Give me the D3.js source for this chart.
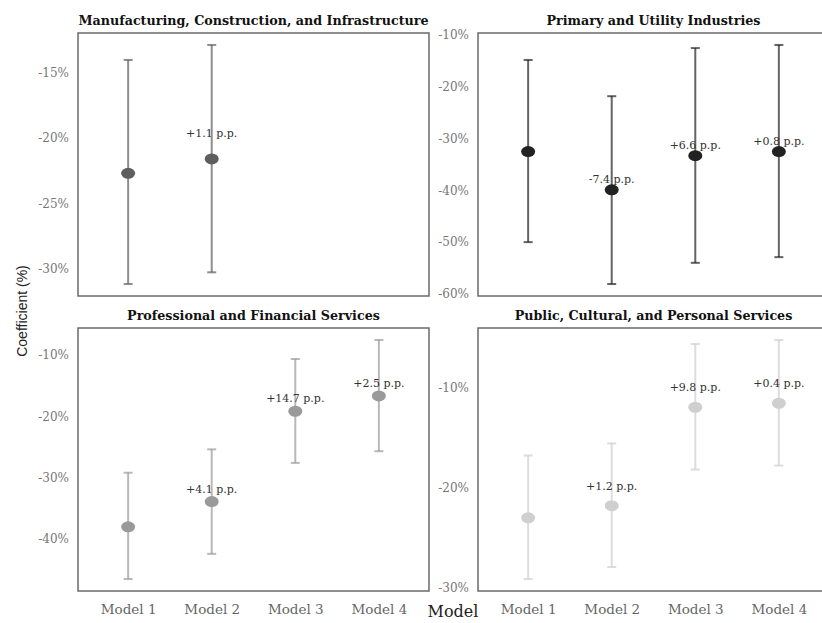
<!DOCTYPE html>
<html>
<head>
<meta charset="utf-8">
<script src="https://cdn.jsdelivr.net/npm/d3@7"></script>
<style>
  html, body { margin: 0; padding: 0; background: #fff; overflow: hidden; }
  svg { display: block; }
</style>
</head>
<body>
<svg id="chart" width="822" height="623"></svg>
<script>
// Models compared along the x axis
const models = ["Model 1", "Model 2", "Model 3", "Model 4"];

// Sector panel titles
const sectorTitles = [
  "Manufacturing, Construction, and Infrastructure",
  "Primary and Utility Industries",
  "Professional and Financial Services",
  "Public, Cultural, and Personal Services"
];

// Point estimates (%) per sector
const coefManufacturing = [-22.7, -21.6];
const coefPrimary       = [-32.5, -39.9, -33.3, -32.5];
const coefProfessional  = [-38.0, -33.9, -19.2, -16.7];
const coefPublic        = [-23.0, -21.8, -12.0, -11.6];

// Lower confidence bounds (%)
const lowManufacturing = [-31.2, -30.3];
const lowPrimary       = [-50.0, -58.1, -54.0, -52.9];
const lowProfessional  = [-46.5, -42.4, -27.6, -25.7];
const lowPublic        = [-29.1, -27.9, -18.2, -17.8];

// Upper confidence bounds (%)
const highManufacturing = [-14.0, -12.85];
const highPrimary       = [-14.8, -21.8, -12.5, -11.9];
const highProfessional  = [-29.2, -25.4, -10.7, -7.6];
const highPublic        = [-16.8, -15.6, -5.7, -5.3];

// Y-axis tick values (%)
const ticksManufacturing = [-30, -25, -20, -15];
const ticksPrimary       = [-60, -50, -40, -30, -20, -10];
const ticksProfessional  = [-40, -30, -20, -10];
const ticksPublic        = [-30, -20, -10];

const sectors = [
  { title: sectorTitles[0], coef: coefManufacturing, low: lowManufacturing, high: highManufacturing, ticks: ticksManufacturing },
  { title: sectorTitles[1], coef: coefPrimary, low: lowPrimary, high: highPrimary, ticks: ticksPrimary },
  { title: sectorTitles[2], coef: coefProfessional, low: lowProfessional, high: highProfessional, ticks: ticksProfessional },
  { title: sectorTitles[3], coef: coefPublic, low: lowPublic, high: highPublic, ticks: ticksPublic }
];

// Layout and styling for each panel
const panelStyle = [
  { x0: 78,  y0: 33,  color: "#5e5e5e", labelGap: 22, showX: false },
  { x0: 478, y0: 33,  color: "#222222", labelGap: 7,  showX: false },
  { x0: 78,  y0: 328, color: "#9a9a9a", labelGap: 9,  showX: true },
  { x0: 478, y0: 328, color: "#cfcfcf", labelGap: 16, showX: true }
];
const panelW = 351, panelH = 263;

const svg = d3.select("#chart");
const fmtChange = v => (v >= 0 ? "+" : "-") + Math.abs(v).toFixed(1);
const serif = "'DejaVu Serif', serif";

sectors.forEach((s, i) => {
  const st = panelStyle[i];
  const g = svg.append("g");

  const x = d3.scalePoint().domain(models).range([st.x0, st.x0 + panelW]).padding(0.6);
  const lo = d3.min(s.low), hi = d3.max(s.high), pad = (hi - lo) * 0.05;
  const y = d3.scaleLinear().domain([lo - pad, hi + pad]).range([st.y0 + panelH, st.y0]);

  // Y axis (labels only)
  const yAxis = d3.axisLeft(y).tickValues(s.ticks).tickSize(0).tickPadding(9)
    .tickFormat(d => d + "%");
  const ya = g.append("g").attr("transform", `translate(${st.x0},0)`).call(yAxis);
  ya.select(".domain").remove();
  ya.selectAll("text").attr("font-family", serif).attr("font-size", 12).attr("fill", "#777");

  // X axis (category labels on the bottom row only)
  if (st.showX) {
    const xAxis = d3.axisBottom(x).tickSize(0).tickPadding(13);
    const xa = g.append("g").attr("transform", `translate(0,${st.y0 + panelH})`).call(xAxis);
    xa.select(".domain").remove();
    xa.selectAll("text").attr("font-family", serif).attr("font-size", 13.5).attr("fill", "#666");
  }

  // Panel frame
  g.append("rect")
    .attr("x", st.x0).attr("y", st.y0)
    .attr("width", panelW).attr("height", panelH)
    .attr("fill", "none").attr("stroke", "#6a6a6a").attr("stroke-width", 1.5);

  // Panel title
  g.append("text")
    .attr("x", st.x0 + panelW / 2).attr("y", st.y0 - 8)
    .attr("text-anchor", "middle")
    .attr("font-family", serif).attr("font-weight", "bold").attr("font-size", 12.7)
    .attr("fill", "#111")
    .text(s.title);

  const rows = s.coef.map((c, k) => ({
    model: models[k], coef: c, low: s.low[k], high: s.high[k],
    change: k > 0 ? c - s.coef[k - 1] : null
  }));

  // Confidence interval whiskers
  const eb = g.append("g").attr("stroke", st.color).attr("stroke-opacity", 0.7).attr("stroke-width", 2);
  eb.selectAll("line.ci").data(rows).join("line").attr("class", "ci")
    .attr("x1", d => x(d.model)).attr("x2", d => x(d.model))
    .attr("y1", d => y(d.low)).attr("y2", d => y(d.high));
  eb.selectAll("line.capLow").data(rows).join("line").attr("class", "capLow")
    .attr("x1", d => x(d.model) - 4.5).attr("x2", d => x(d.model) + 4.5)
    .attr("y1", d => y(d.low)).attr("y2", d => y(d.low));
  eb.selectAll("line.capHigh").data(rows).join("line").attr("class", "capHigh")
    .attr("x1", d => x(d.model) - 4.5).attr("x2", d => x(d.model) + 4.5)
    .attr("y1", d => y(d.high)).attr("y2", d => y(d.high));

  // Point estimates
  g.selectAll("ellipse").data(rows).join("ellipse")
    .attr("cx", d => x(d.model)).attr("cy", d => y(d.coef))
    .attr("rx", 7).attr("ry", 5.5)
    .attr("fill", st.color);

  // Change from previous model
  g.selectAll("text.change").data(rows.filter(d => d.change !== null)).join("text")
    .attr("class", "change")
    .attr("x", d => x(d.model)).attr("y", d => y(d.coef) - st.labelGap)
    .attr("text-anchor", "middle")
    .attr("font-family", serif).attr("font-size", 11).attr("fill", "#333")
    .text(d => fmtChange(d.change) + " p.p.");
});

// Shared axis titles
svg.append("text")
  .attr("transform", "translate(27,311) rotate(-90)")
  .attr("text-anchor", "middle")
  .attr("font-family", "'Liberation Sans', sans-serif").attr("font-size", 14)
  .attr("fill", "#222")
  .text("Coefficient (%)");

svg.append("text")
  .attr("x", 453).attr("y", 617)
  .attr("text-anchor", "middle")
  .attr("font-family", serif).attr("font-size", 16)
  .attr("fill", "#222")
  .text("Model");
</script>
</body>
</html>
